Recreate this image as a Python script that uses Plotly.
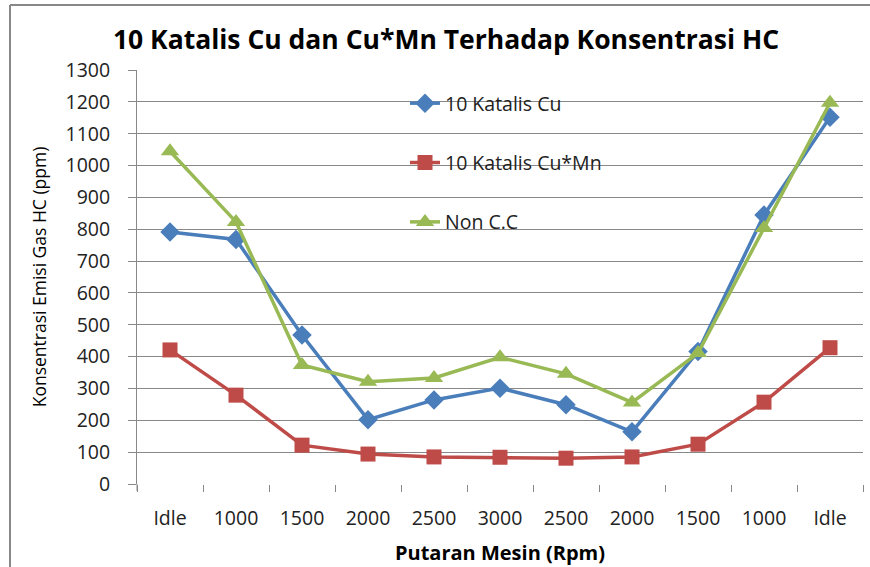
import plotly.graph_objects as go

categories = ["Idle", "1000", "1500", "2000", "2500", "3000", "2500", "2000", "1500", "1000", "Idle"]
cu = [791, 768, 468, 202, 264, 301, 249, 164, 416, 845, 1152]
cu_mn = [421, 279, 122, 94, 85, 84, 81, 85, 125, 257, 428]
non_cc = [1045, 823, 374, 321, 333, 398, 346, 256, 411, 804, 1197]
y_ticks = list(range(0, 1301, 100))

W, H = 870, 567
L, R, T, B = 137, 7, 70, 83
pw, ph = W - L - R, H - T - B
x_idx = list(range(len(categories)))

def px_x(p):
    return (p - L) / pw

def px_y(p):
    return (H - B - p) / ph

fig = go.Figure()
series = [
    ("10 Katalis Cu", cu, "#4A7EBB", "diamond", 15),
    ("10 Katalis Cu*Mn", cu_mn, "#BE4B48", "square", 15),
    ("Non C.C", non_cc, "#98B954", "triangle-up", 16),
]
for name, vals, col, sym, sz in series:
    fig.add_trace(go.Scatter(
        x=x_idx, y=vals, name=name, mode="lines+markers",
        line=dict(color=col, width=3.5),
        marker=dict(symbol=sym, size=sz, color=col),
        legendgroup=name,
    ))

fig.update_layout(
    width=W, height=H,
    margin=dict(l=L, r=R, t=T, b=B),
    paper_bgcolor="white", plot_bgcolor="white",
    font=dict(family="Open Sans", color="#000000"),
    title=dict(text="<b>10 Katalis Cu dan Cu*Mn Terhadap Konsentrasi HC</b>",
               x=446 / W, xanchor="center", xref="container",
               y=1 - 40 / H, yanchor="middle", yref="container",
               font=dict(size=26.5, family="Open Sans", color="#000000")),
    showlegend=True,
    legend=dict(x=px_x(405), y=px_y(84), xanchor="left", yanchor="top",
                bgcolor="rgba(0,0,0,0)", tracegroupgap=31,
                font=dict(size=19.5, family="Open Sans", color="#222222")),
    xaxis=dict(
        range=[-0.5, len(categories) - 0.5],
        tickmode="array", tickvals=x_idx, ticktext=categories,
        ticks="", showgrid=False, zeroline=False, showline=False,
        tickfont=dict(size=19.5, family="Open Sans", color="#222222"),
        ticklabelstandoff=20,
        minor=dict(tick0=-0.5, dtick=1, ticks="outside", ticklen=7,
                   tickcolor="#888888", showgrid=False),
        title=dict(text="<b>Putaran Mesin (Rpm)</b>", standoff=16,
                   font=dict(size=20, family="Open Sans", color="#000000")),
    ),
    yaxis=dict(
        range=[0, 1300], tickmode="array", tickvals=y_ticks,
        ticks="outside", ticklen=8, tickcolor="#888888",
        showgrid=True, gridcolor="#888888", gridwidth=1,
        zeroline=False, showline=True, linecolor="#888888", linewidth=1,
        tickfont=dict(size=19.5, family="Open Sans", color="#222222"),
        ticklabelstandoff=14,
        title=dict(text="Konsentrasi Emisi Gas HC (ppm)", standoff=14,
                   font=dict(size=17.5, family="Open Sans", color="#000000")),
    ),
    shapes=[
        dict(type="line", xref="paper", yref="paper",
             x0=px_x(10), x1=px_x(10), y0=px_y(5), y1=px_y(600),
             line=dict(color="#888888", width=2)),
        dict(type="line", xref="paper", yref="paper",
             x0=px_x(10), x1=px_x(875), y0=px_y(5), y1=px_y(5),
             line=dict(color="#888888", width=2)),
        dict(type="line", xref="paper", yref="paper",
             x0=0, x1=0, y0=0, y1=px_y(491),
             line=dict(color="#888888", width=1)),
    ],
)

fig.write_html("out.html", config={"displayModeBar": False},
               post_script="document.body.style.margin='0';")
